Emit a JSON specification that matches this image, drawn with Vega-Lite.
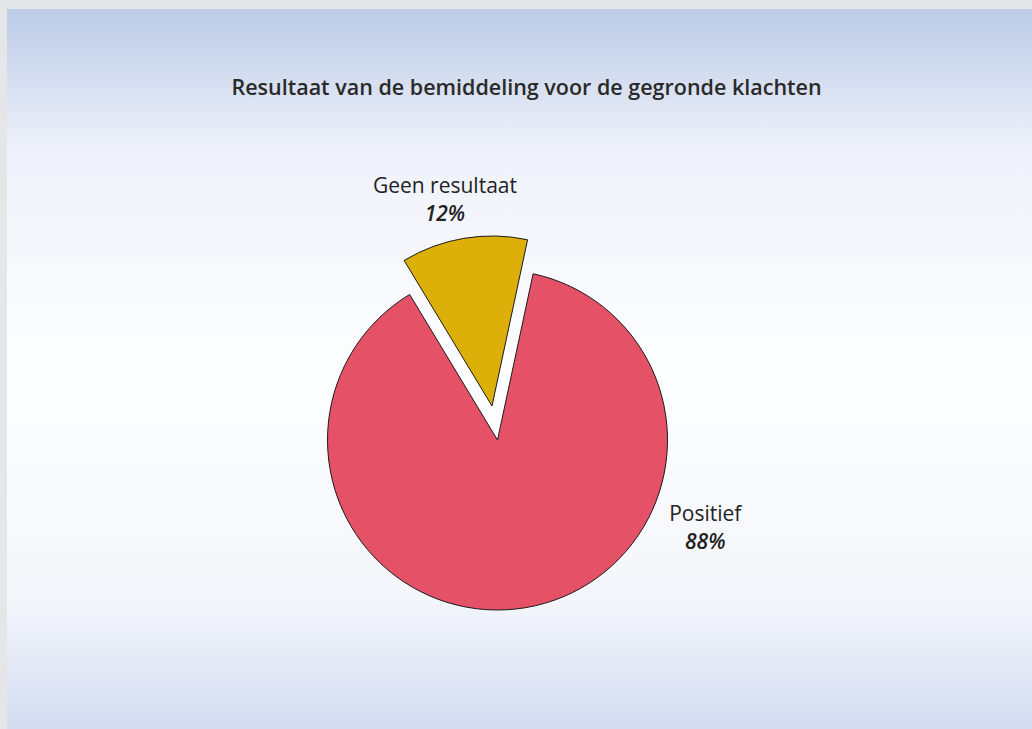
{
  "$schema": "https://vega.github.io/schema/vega-lite/v6.json",
  "width": 1025,
  "height": 720,
  "autosize": {"type": "none"},
  "padding": {"left": 7, "top": 9, "right": 0, "bottom": 0},
  "background": "#e5e6e7",
  "config": {"view": {"stroke": null}},
  "title": {
    "text": "Resultaat van de bemiddeling voor de gegronde klachten",
    "font": "Open Sans",
    "fontSize": 21.5,
    "fontWeight": 600,
    "color": "#2a2a2a",
    "anchor": "middle",
    "offset": -90,
    "dx": 7
  },
  "data": {
    "values": [
      {"cat": "Positief", "value": 88, "pct": "88%"},
      {"cat": "Geen resultaat", "value": 12, "pct": "12%"}
    ]
  },
  "layer": [
    {
      "mark": {
        "type": "rect",
        "color": {
          "gradient": "linear",
          "x1": 0, "y1": 0, "x2": 0, "y2": 1,
          "stops": [
            {"offset": 0, "color": "#bccbe7"},
            {"offset": 0.2, "color": "#eff2fa"},
            {"offset": 0.5, "color": "#fdfeff"},
            {"offset": 0.82, "color": "#f4f6fb"},
            {"offset": 1, "color": "#d3dcf0"}
          ]
        }
      },
      "encoding": {}
    },
    {
      "mark": {"type": "arc", "radius": 170, "xOffset": -22, "yOffset": 71, "stroke": "#1a1a1a", "strokeWidth": 1},
      "encoding": {
        "theta": {"field": "value", "type": "quantitative", "stack": true, "scale": {"range": [0.211, 6.494]}},
        "order": {"field": "value", "sort": "descending"},
        "color": {"field": "cat", "type": "nominal", "scale": {"domain": ["Positief", "Geen resultaat"], "range": ["#e55267", "#dcb009"]}, "legend": null},
        "opacity": {"condition": {"test": "datum.cat == 'Positief'", "value": 1}, "value": 0}
      }
    },
    {
      "mark": {"type": "arc", "radius": 170, "xOffset": -27.5, "yOffset": 37, "stroke": "#1a1a1a", "strokeWidth": 1},
      "encoding": {
        "theta": {"field": "value", "type": "quantitative", "stack": true, "scale": {"range": [0.211, 6.494]}},
        "order": {"field": "value", "sort": "descending"},
        "color": {"field": "cat", "type": "nominal", "scale": {"domain": ["Positief", "Geen resultaat"], "range": ["#e55267", "#dcb009"]}, "legend": null},
        "opacity": {"condition": {"test": "datum.cat == 'Geen resultaat'", "value": 1}, "value": 0}
      }
    },
    {
      "mark": {"type": "text", "radius": 245, "xOffset": -22, "yOffset": 71, "dy": -14, "thetaOffset": -0.05, "font": "Open Sans", "fontSize": 21, "color": "#222222"},
      "encoding": {
        "theta": {"field": "value", "type": "quantitative", "stack": true, "scale": {"range": [0.211, 6.494]}},
        "order": {"field": "value", "sort": "descending"},
        "text": {"condition": {"test": "datum.cat == 'Geen resultaat'", "field": "cat"}, "value": ""}
      }
    },
    {
      "mark": {"type": "text", "radius": 245, "xOffset": -22, "yOffset": 71, "dy": 14, "thetaOffset": -0.05, "font": "Open Sans", "fontSize": 21, "fontStyle": "italic", "fontWeight": 600, "color": "#222222"},
      "encoding": {
        "theta": {"field": "value", "type": "quantitative", "stack": true, "scale": {"range": [0.211, 6.494]}},
        "order": {"field": "value", "sort": "descending"},
        "text": {"condition": {"test": "datum.cat == 'Geen resultaat'", "field": "pct"}, "value": ""}
      }
    },
    {
      "mark": {"type": "text", "radius": 226, "xOffset": -22, "yOffset": 71, "dy": -14, "thetaOffset": -1.0, "font": "Open Sans", "fontSize": 21, "color": "#222222"},
      "encoding": {
        "theta": {"field": "value", "type": "quantitative", "stack": true, "scale": {"range": [0.211, 6.494]}},
        "order": {"field": "value", "sort": "descending"},
        "text": {"condition": {"test": "datum.cat == 'Positief'", "field": "cat"}, "value": ""}
      }
    },
    {
      "mark": {"type": "text", "radius": 226, "xOffset": -22, "yOffset": 71, "dy": 14, "thetaOffset": -1.0, "font": "Open Sans", "fontSize": 21, "fontStyle": "italic", "fontWeight": 600, "color": "#222222"},
      "encoding": {
        "theta": {"field": "value", "type": "quantitative", "stack": true, "scale": {"range": [0.211, 6.494]}},
        "order": {"field": "value", "sort": "descending"},
        "text": {"condition": {"test": "datum.cat == 'Positief'", "field": "pct"}, "value": ""}
      }
    }
  ]
}
